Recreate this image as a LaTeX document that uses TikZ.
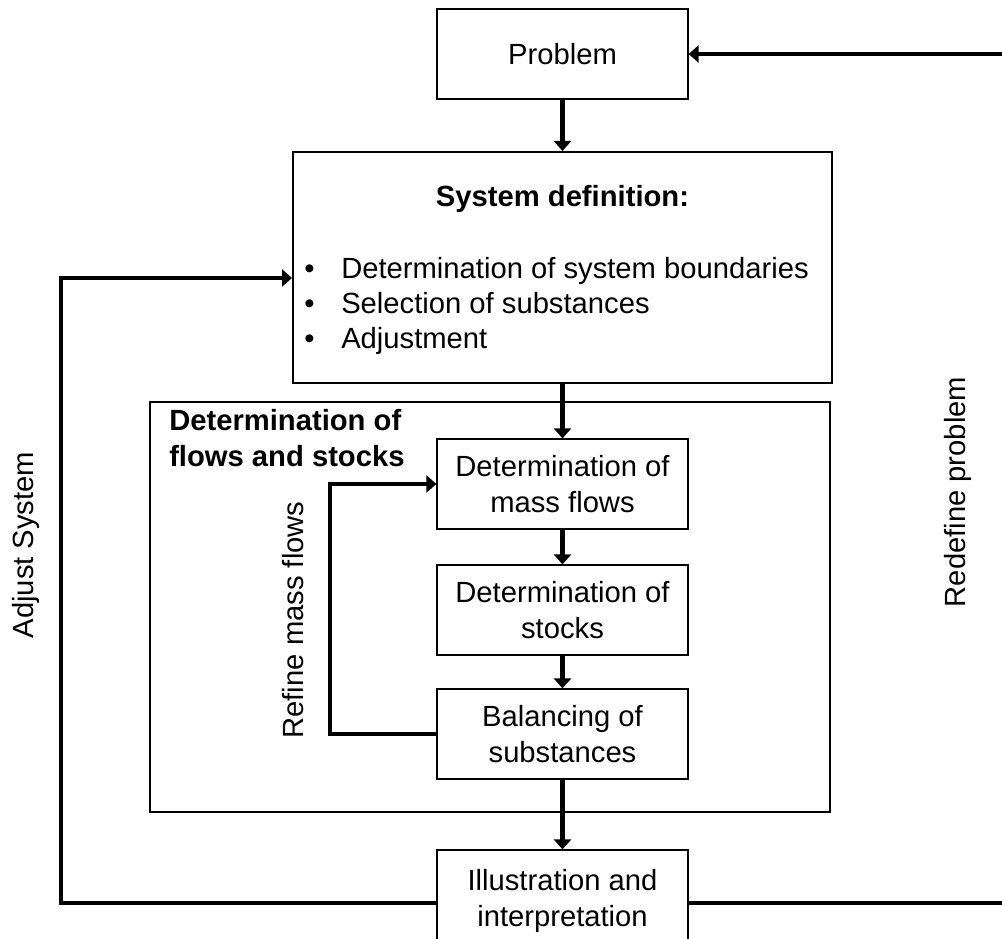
\documentclass[tikz,border=0pt]{standalone}
\usepackage{fontspec}
\setmainfont{Liberation Sans}
\usetikzlibrary{arrows.meta}
\newcommand\bulletmark{\makebox[27.75pt][l]{\textbullet}}
\begin{document}
\begin{tikzpicture}[x=0.75pt,y=-0.75pt,
  every node/.style={font=\fontsize{21.9pt}{26.6pt}\selectfont},
  boldtext/.style={font=\fontsize{21.9pt}{27pt}\selectfont\bfseries},
  box/.style={draw, line width=0.9pt, inner sep=0pt, minimum width=188.25pt,
    minimum height=67.5pt, align=center},
  bigbox/.style={draw, line width=1.5pt, inner sep=0pt},
  txt/.style={inner sep=0pt},
  flow/.style={line width=3.4pt, -{Triangle[length=7.5pt,width=12.75pt]}},
  link/.style={line width=3.4pt}
]
\useasboundingbox (0,0) rectangle (1002,938);
\clip (0,0) rectangle (1002,938);

% main column of steps
\node[box] (prob) at (562.5,54) {Problem};
\node[bigbox, minimum width=404.25pt, minimum height=173.25pt] (sysdef) at (562.5,267.5) {};
\node[txt, anchor=base, boldtext] (sdtitle) at (562.5,206) {System definition:};
\node[txt, anchor=base west] (sdlist) at (304,278) {\begin{tabular}[t]{@{}l@{}}
  \bulletmark Determination of system boundaries\\
  \bulletmark Selection of substances\\
  \bulletmark Adjustment\end{tabular}};

% frame around the flow and stock determination
\node[bigbox, minimum width=510pt, minimum height=307.5pt] (flows) at (490,607) {};
\node[txt, anchor=base west, boldtext] (flowtitle) at (169,430)
  {\begin{tabular}[t]{@{}l@{}}Determination of\\flows and stocks\end{tabular}};

\node[box] (mass) at (562.5,484) {Determination of\\mass flows};
\node[box] (stock) at (562.5,610) {Determination of\\stocks};
\node[box] (bal) at (562.5,734) {Balancing of\\substances};
\node[box, minimum height=76.5pt] (illus) at (562.5,901) {Illustration and\\interpretation};

% straight flow downwards
\draw[flow] (prob) -- (sysdef);
\draw[flow] (sysdef) -- (mass);
\draw[flow] (mass) -- (stock);
\draw[flow] (stock) -- (bal);
\draw[flow] (bal) -- (illus);

% refinement loop
\coordinate (refc) at (330,734);
\draw[flow] (bal.west) -- (refc) |- (mass.west);
\node[txt, rotate=90, anchor=base] (reflab) at (303,620) {Refine mass flows};

% feedback to the system definition
\coordinate (adjc) at (61,903);
\coordinate (adjt) at (61,278);
\draw[flow] (illus.west |- adjc) -- (adjc) -- (adjt) -- (sysdef.west |- adjt);
\node[txt, rotate=90, anchor=base] (adjlab) at (33,545) {Adjust System};

% feedback to the problem
\coordinate (redc) at (1015,903);
\draw[flow] (illus.east |- redc) -- (redc) |- (prob.east);
\node[txt, rotate=90, anchor=base] (redlab) at (965,492) {Redefine problem};
\end{tikzpicture}
\end{document}
